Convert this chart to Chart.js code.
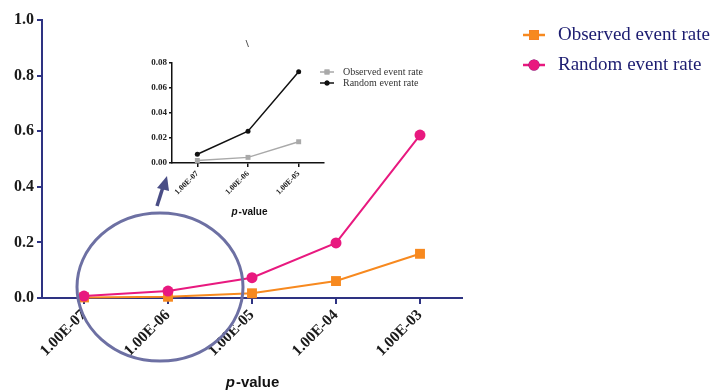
<!DOCTYPE html>
<html lang="en">
<head>
    <meta charset="UTF-8">
    <title>Event rate vs p-value</title>
<style>
    body { margin: 0; background: #ffffff; }
    #wrap { position: relative; width: 715px; height: 390px; }
    #mainChart { position: absolute; left: 0; top: 0; }
    #insetChart { position: absolute; left: 120px; top: 35px; }
</style>
</head>
<body>
    <div id="wrap">
        <canvas id="mainChart" width="715" height="390"></canvas>
        <canvas id="insetChart" width="320" height="190"></canvas>
    </div>

    <script src="https://cdn.jsdelivr.net/npm/chart.js"></script>
    <script>
        // data
        const pValues = ['1.00E-07', '1.00E-06', '1.00E-05', '1.00E-04', '1.00E-03'];
        const observedRate = [0.002, 0.0045, 0.017, 0.061, 0.159];
        const randomRate = [0.007, 0.025, 0.073, 0.198, 0.586];

        const insetPValues = ['1.00E-07', '1.00E-06', '1.00E-05'];
        const insetObserved = [0.002, 0.0045, 0.017];
        const insetRandom = [0.007, 0.0255, 0.073];

        const seriesNames = ['Observed event rate', 'Random event rate'];

        const axisNavy = '#2e3382';
        const serifBold = { family: '"Liberation Serif", "Times New Roman", serif', weight: 'bold' };

        // legend + axis title + circle/arrow drawn on top of the main chart
        const mainDecor = {
            id: 'mainDecor',
            afterDraw(chart) {
                const ctx = chart.ctx;
                const x = chart.scales.x, y = chart.scales.y;
                ctx.save();

                // legend
                const sets = chart.data.datasets;
                sets.forEach((ds, i) => {
                    const ly = 35 + i * 30;
                    ctx.strokeStyle = ds.borderColor;
                    ctx.lineWidth = 2.5;
                    ctx.beginPath();
                    ctx.moveTo(523, ly);
                    ctx.lineTo(545, ly);
                    ctx.stroke();
                    Chart.helpers.drawPoint(ctx, {
                        pointStyle: ds.pointStyle, radius: ds.pointRadius, borderWidth: 0
                    }, 534, ly);
                    ctx.fillStyle = ds.backgroundColor;
                    ctx.fill();
                    ctx.fillStyle = '#1c1c70';
                    ctx.font = '19px "Liberation Serif", "Times New Roman", serif';
                    ctx.textBaseline = 'middle';
                    ctx.textAlign = 'left';
                    ctx.fillText(ds.label, 558, ly);
                });

                // x axis title, italic p
                ctx.fillStyle = '#111';
                ctx.textBaseline = 'alphabetic';
                const tx = (x.left + x.right) / 2;
                ctx.font = 'italic bold 15px "Liberation Sans", Arial, sans-serif';
                const pw = ctx.measureText('p').width;
                ctx.font = 'bold 15px "Liberation Sans", Arial, sans-serif';
                const rw = ctx.measureText('-value').width;
                const start = tx - (pw + rw) / 2;
                ctx.font = 'italic bold 15px "Liberation Sans", Arial, sans-serif';
                ctx.fillText('p', start, 387);
                ctx.font = 'bold 15px "Liberation Sans", Arial, sans-serif';
                ctx.fillText('-value', start + pw + 1, 387);

                // zoom circle around the first points
                const cx = x.getPixelForValue(1) - 8;
                const cy = y.getPixelForValue(0) - 11;
                ctx.strokeStyle = '#6d70a3';
                ctx.lineWidth = 3;
                ctx.beginPath();
                ctx.ellipse(cx, cy, 83, 74, 0, 0, Math.PI * 2);
                ctx.stroke();

                // arrow toward the inset
                ctx.strokeStyle = '#4a4e86';
                ctx.fillStyle = '#4a4e86';
                ctx.lineWidth = 3.5;
                ctx.beginPath();
                ctx.moveTo(157, 206);
                ctx.lineTo(163, 187);
                ctx.stroke();
                ctx.beginPath();
                ctx.moveTo(167, 176);
                ctx.lineTo(157, 188);
                ctx.lineTo(169, 191);
                ctx.closePath();
                ctx.fill();
                ctx.restore();
            }
        };

        new Chart(document.getElementById('mainChart'), {
            type: 'line',
            data: {
                labels: pValues,
                datasets: [{
                    label: seriesNames[0],
                    data: observedRate,
                    borderColor: '#f7891f',
                    backgroundColor: '#f7891f',
                    pointStyle: 'rect',
                    pointRadius: 7,
                    pointBorderWidth: 0,
                    borderWidth: 2,
                    order: 1,
                    clip: false
                }, {
                    label: seriesNames[1],
                    data: randomRate,
                    borderColor: '#e8197f',
                    backgroundColor: '#e8197f',
                    pointStyle: 'circle',
                    pointRadius: 5.5,
                    pointBorderWidth: 0,
                    borderWidth: 2,
                    order: 0,
                    clip: false
                }]
            },
            options: {
                responsive: false,
                animation: false,
                layout: { padding: { left: 14, top: 20, right: 253, bottom: 0 } },
                scales: {
                    x: {
                        offset: true,
                        grid: { display: true, drawOnChartArea: false, color: axisNavy, lineWidth: 2, tickLength: 6, offset: false },
                        border: { color: axisNavy, width: 2 },
                        ticks: {
                            color: '#1a1a1a',
                            font: Object.assign({ size: 15.5 }, serifBold),
                            minRotation: 45, maxRotation: 45,
                            padding: 2
                        },
                        afterFit(scale) { scale.height = 92; }
                    },
                    y: {
                        min: 0, max: 1,
                        grid: { display: true, drawOnChartArea: false, color: axisNavy, lineWidth: 2, tickLength: 5 },
                        border: { color: axisNavy, width: 2 },
                        ticks: {
                            stepSize: 0.2,
                            color: '#1a1a1a',
                            font: Object.assign({ size: 16 }, serifBold),
                            padding: 3,
                            callback: v => v.toFixed(1)
                        },
                        afterFit(scale) { scale.width = 28; }
                    }
                },
                plugins: {
                    legend: { display: false },
                    tooltip: { enabled: false }
                }
            },
            plugins: [mainDecor]
        });

        // inset legend, axis title and stray mark
        const insetDecor = {
            id: 'insetDecor',
            afterDraw(chart) {
                const ctx = chart.ctx;
                const x = chart.scales.x;
                ctx.save();
                chart.data.datasets.forEach((ds, i) => {
                    const ly = 37 + i * 11;
                    ctx.strokeStyle = ds.borderColor;
                    ctx.lineWidth = 1.5;
                    ctx.beginPath();
                    ctx.moveTo(200, ly);
                    ctx.lineTo(214, ly);
                    ctx.stroke();
                    Chart.helpers.drawPoint(ctx, {
                        pointStyle: ds.pointStyle, radius: ds.pointRadius, borderWidth: 0
                    }, 207, ly);
                    ctx.fillStyle = ds.backgroundColor;
                    ctx.fill();
                    ctx.fillStyle = '#333';
                    ctx.font = '10px "Liberation Serif", "Times New Roman", serif';
                    ctx.textBaseline = 'middle';
                    ctx.fillText(ds.label, 223, ly);
                });

                ctx.fillStyle = '#111';
                ctx.textBaseline = 'alphabetic';
                const tx = (x.left + x.right) / 2 + 1;
                ctx.font = 'italic bold 10px "Liberation Sans", Arial, sans-serif';
                const pw = ctx.measureText('p').width;
                ctx.font = 'bold 10px "Liberation Sans", Arial, sans-serif';
                const rw = ctx.measureText('-value').width;
                const start = tx - (pw + rw) / 2;
                ctx.font = 'italic bold 10px "Liberation Sans", Arial, sans-serif';
                ctx.fillText('p', start, 180);
                ctx.font = 'bold 10px "Liberation Sans", Arial, sans-serif';
                ctx.fillText('-value', start + pw + 1, 180);

                ctx.strokeStyle = '#555';
                ctx.lineWidth = 1;
                ctx.beginPath();
                ctx.moveTo(126, 5);
                ctx.lineTo(128.5, 12);
                ctx.stroke();
                ctx.restore();
            }
        };

        new Chart(document.getElementById('insetChart'), {
            type: 'line',
            data: {
                labels: insetPValues,
                datasets: [{
                    label: seriesNames[0],
                    data: insetObserved,
                    borderColor: '#a9a9a9',
                    backgroundColor: '#a9a9a9',
                    pointStyle: 'rect',
                    pointRadius: 3.5,
                    pointBorderWidth: 0,
                    borderWidth: 1.5,
                    clip: false
                }, {
                    label: seriesNames[1],
                    data: insetRandom,
                    borderColor: '#111111',
                    backgroundColor: '#111111',
                    pointStyle: 'circle',
                    pointRadius: 2.5,
                    pointBorderWidth: 0,
                    borderWidth: 1.5,
                    clip: false
                }]
            },
            options: {
                responsive: false,
                animation: false,
                layout: { padding: { left: 28, top: 28, right: 116, bottom: 0 } },
                scales: {
                    x: {
                        offset: true,
                        grid: { display: true, drawOnChartArea: false, color: '#111', lineWidth: 1.5, tickLength: 4, offset: false },
                        border: { color: '#111', width: 1.5 },
                        ticks: {
                            color: '#222',
                            font: Object.assign({ size: 8 }, serifBold),
                            minRotation: 45, maxRotation: 45,
                            padding: 2
                        },
                        afterFit(scale) { scale.height = 62; }
                    },
                    y: {
                        min: 0, max: 0.08,
                        grid: { display: true, drawOnChartArea: false, color: '#111', lineWidth: 1.5, tickLength: 3 },
                        border: { color: '#111', width: 1.5 },
                        ticks: {
                            stepSize: 0.02,
                            color: '#222',
                            font: Object.assign({ size: 9 }, serifBold),
                            padding: 2,
                            callback: v => v.toFixed(2)
                        },
                        afterFit(scale) { scale.width = 24; }
                    }
                },
                plugins: {
                    legend: { display: false },
                    tooltip: { enabled: false }
                }
            },
            plugins: [insetDecor]
        });
    </script>
</body>
</html>
